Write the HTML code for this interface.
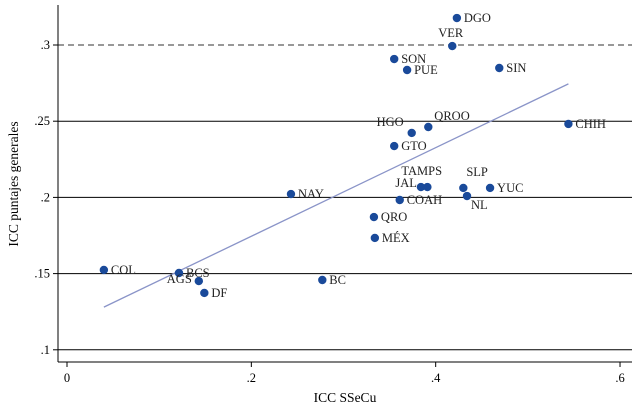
<!DOCTYPE html>
<html><head><meta charset="utf-8"><style>
body{margin:0;background:#fff;}
svg{display:block;font-family:"Liberation Serif",serif;}
</style></head><body>
<svg id="chart" width="643" height="409" xmlns="http://www.w3.org/2000/svg"></svg>
<script>
const states=["DGO","VER","SON","PUE","SIN","CHIH","QROO","HGO","GTO","JAL","TAMPS","COAH","SLP","YUC","NL","NAY","QRO","MÉX","BC","COL","BCS","AGS","DF"];
const xVals=[0.423,0.418,0.355,0.369,0.469,0.544,0.392,0.374,0.355,0.384,0.391,0.361,0.430,0.459,0.434,0.243,0.333,0.334,0.277,0.040,0.1215,0.143,0.149];
const yVals=[0.3177,0.2993,0.2908,0.2836,0.2849,0.2482,0.2462,0.2423,0.2337,0.2068,0.2068,0.1983,0.2062,0.2062,0.2009,0.2022,0.1871,0.1734,0.1458,0.1524,0.1504,0.1451,0.1373];
const fitX=[0.04,0.544];
const fitY=[0.128,0.2745];
const xTicks=[0,0.2,0.4,0.6];
const xTickLabels=["0",".2",".4",".6"];
const yTicks=[0.1,0.15,0.2,0.25,0.3];
const yTickLabels=[".1",".15",".2",".25",".3"];
const refLine=0.3;
// label placement (pixel offsets, style only)
const lblPos={"VER":[-14,-9,"start"],"HGO":[-8,-7,"end"],"QROO":[6,-7,"start"],"TAMPS":[-26,-12,"start"],"JAL":[-4,0,"end"],"NL":[4,13,"start"],"AGS":[-7,2,"end"],"SLP":[3,-12,"start"]};
const svg=document.getElementById('chart');
const NS="http://www.w3.org/2000/svg";
const X=v=>67+v*921.7;
const Y=v=>45+(0.3-v)*1524;
function mk(tag,attrs,name){const e=document.createElementNS(NS,tag);for(const k in attrs)e.setAttribute(k,attrs[k]);


svg.appendChild(e);return e;}
yTicks.forEach((t,i)=>{
  if(t!==refLine) mk('line',{x1:58,x2:632,y1:Y(t),y2:Y(t),stroke:'#000','stroke-width':1},'gridline');
  mk('line',{x1:53,x2:58,y1:Y(t),y2:Y(t),stroke:'#000'},'y-tick');
  const tx=mk('text',{x:50,y:Y(t)+4,'text-anchor':'end','font-size':12.5},'y-tick-label');tx.textContent=yTickLabels[i];
});
mk('line',{x1:58,x2:632,y1:Y(refLine),y2:Y(refLine),stroke:'#777','stroke-width':1.6,'stroke-dasharray':'6,4'},'reference-line');
mk('line',{x1:58,x2:58,y1:5,y2:362,stroke:'#000'},'y-axis');
mk('line',{x1:58,x2:632,y1:362,y2:362,stroke:'#000'},'x-axis');
xTicks.forEach((t,i)=>{
  mk('line',{x1:X(t),x2:X(t),y1:362,y2:367,stroke:'#000'},'x-tick');
  const tx=mk('text',{x:X(t),y:382,'text-anchor':'middle','font-size':12.5},'x-tick-label');tx.textContent=xTickLabels[i];
});
const xt=mk('text',{x:345,y:402,'text-anchor':'middle','font-size':13.5},'x-axis-title');xt.textContent="ICC SSeCu";
const yt=mk('text',{x:18,y:184,'text-anchor':'middle','font-size':13.5,transform:'rotate(-90 18 184)'},'y-axis-title');yt.textContent="ICC puntajes generales";
mk('line',{x1:X(fitX[0]),y1:Y(fitY[0]),x2:X(fitX[1]),y2:Y(fitY[1]),stroke:'#8a94c8','stroke-width':1.3},'fit-line');
states.forEach((s,i)=>{
  const cx=X(xVals[i]),cy=Y(yVals[i]);
  mk('circle',{cx:cx,cy:cy,r:4.2,fill:'#1a4a9a'},'point-'+s.toLowerCase());
  const p=lblPos[s]||[7,4,"start"];
  const t=mk('text',{x:cx+p[0],y:cy+p[1],'text-anchor':p[2],'font-size':12.5,fill:'#222'},'label-'+s.toLowerCase());
  t.textContent=s;
});
</script>
</body></html>
